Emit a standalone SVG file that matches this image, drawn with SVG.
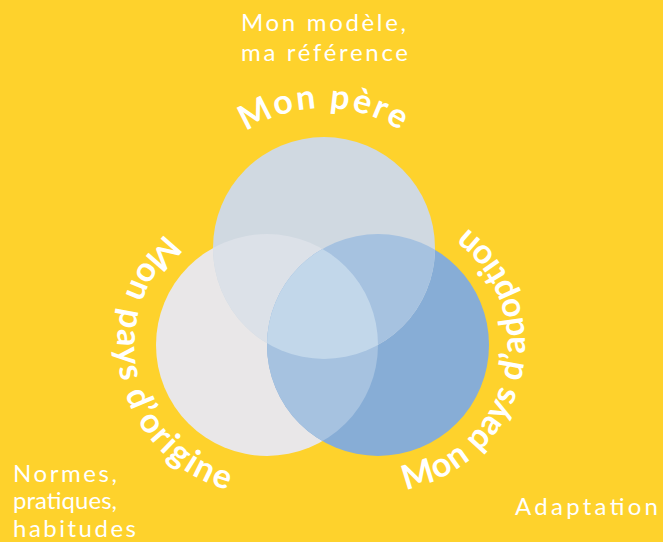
<svg xmlns="http://www.w3.org/2000/svg" xmlns:xlink="http://www.w3.org/1999/xlink" width="663" height="542" viewBox="0 0 663 542">
  <style>
    .thin { font-family: Lato, "Liberation Sans", sans-serif; font-weight: 400; font-size: 24px; fill: #ffffff; }
    .arc { font-family: Lato, "Liberation Sans", sans-serif; font-weight: 700; font-size: 34px; fill: #ffffff; }
  </style>
  <defs>
    <clipPath id="clipTop"><circle cx="324" cy="248" r="111"/></clipPath>
    <clipPath id="clipLeft"><circle cx="267" cy="345" r="111"/></clipPath>
    <path id="pathTop" d="M 184 248 A 140 140 0 0 1 464 248" fill="none"/>
    <path id="pathLeft" d="M 282.7 195.8 A 150 150 0 1 0 350.9 469.4" fill="none"/>
    <path id="pathRight" d="M 297.9 468.3 A 147 147 0 1 0 360.1 199.1" fill="none"/>
  </defs>
  <rect x="0" y="0" width="663" height="542" fill="#FED22C"/>

  <g id="circle-origine">
    <circle cx="267" cy="345" r="111" fill="#E9E7E8"/>
  </g>
  <g id="circle-adoption">
    <circle cx="378" cy="345" r="111" fill="#87ADD6"/>
  </g>
  <g id="circle-pere">
    <circle cx="324" cy="248" r="111" fill="#D0D9E1"/>
  </g>
  <g id="overlaps">
    <circle cx="267" cy="345" r="111" fill="#DCE1E8" clip-path="url(#clipTop)"/>
    <circle cx="378" cy="345" r="111" fill="#A6C2E0" clip-path="url(#clipTop)"/>
    <circle cx="378" cy="345" r="111" fill="#A6C2E0" clip-path="url(#clipLeft)"/>
    <g clip-path="url(#clipTop)">
      <circle cx="378" cy="345" r="111" fill="#C2D7EA" clip-path="url(#clipLeft)"/>
    </g>
  </g>

  <g id="connectors"></g>

  <g id="label-pere">
    <text class="arc" letter-spacing="2.4"><textPath xlink:href="#pathTop" href="#pathTop" startOffset="50%" text-anchor="middle">Mon père</textPath></text>
  </g>
  <g id="label-origine">
    <text class="arc" letter-spacing="2"><textPath xlink:href="#pathLeft" href="#pathLeft" startOffset="50%" text-anchor="middle">Mon pays d’origine</textPath></text>
  </g>
  <g id="label-adoption">
    <text class="arc" letter-spacing="1.2"><textPath xlink:href="#pathRight" href="#pathRight" startOffset="50%" text-anchor="middle">Mon pays d’adoption</textPath></text>
  </g>

  <g id="note-pere">
    <text class="thin" x="241" y="31" textLength="165" lengthAdjust="spacing">Mon modèle,</text>
    <text class="thin" x="241" y="61" textLength="167" lengthAdjust="spacing">ma référence</text>
  </g>
  <g id="note-origine">
    <text class="thin" x="13" y="482" textLength="104" lengthAdjust="spacing">Normes,</text>
    <text class="thin" x="13" y="509" textLength="104" lengthAdjust="spacing">pratiques,</text>
    <text class="thin" x="13" y="537" textLength="123" lengthAdjust="spacing">habitudes</text>
  </g>
  <g id="note-adoption">
    <text class="thin" x="515" y="515" textLength="143" lengthAdjust="spacing">Adaptation</text>
  </g>
</svg>
